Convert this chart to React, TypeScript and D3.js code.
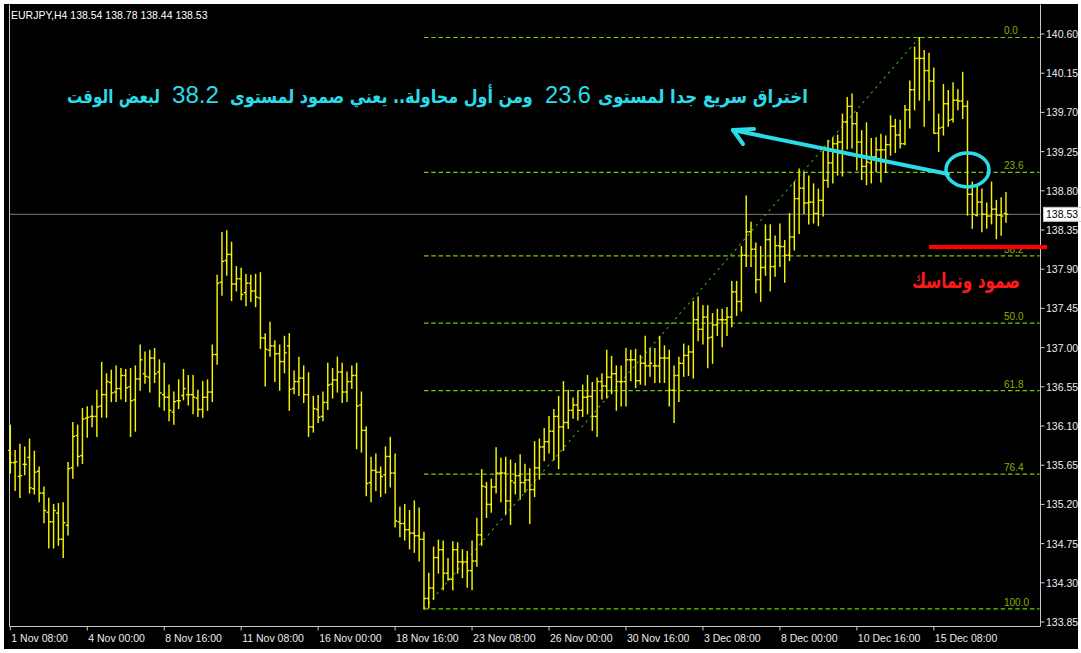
import React, { useLayoutEffect, useRef, useState } from 'react';
import * as d3 from 'd3';

// EURJPY H4 bars (one entry per bar, left to right)
const opens = [
  135.82, 135.68, 135.52, 135.66, 135.74, 135.38, 135.58, 135.33, 135.11, 135.00, 135.10, 134.80, 134.96, 135.62, 135.99, 135.76,
  136.19, 136.21, 136.21, 136.33, 136.46, 136.60, 136.49, 136.53, 136.68, 136.55, 136.40, 136.64, 136.70, 136.66, 136.88, 136.72,
  136.46, 136.43, 136.26, 136.39, 136.45, 136.46, 136.46, 136.42, 136.29, 136.43, 136.49, 136.92, 137.75, 138.00, 138.07, 137.73,
  137.79, 137.63, 137.74, 137.65, 137.57, 137.11, 136.97, 137.02, 136.93, 136.84, 137.02, 136.53, 136.61, 136.65, 136.46, 136.09,
  136.29, 136.21, 136.37, 136.58, 136.63, 136.72, 136.49, 136.61, 136.68, 136.34, 136.05, 135.45, 135.59, 135.57, 135.54, 135.75,
  135.56, 135.00, 134.98, 134.91, 134.87, 134.84, 134.80, 134.12, 134.24, 134.59, 134.68, 134.41, 134.34, 134.68, 134.54, 134.54,
  134.44, 134.55, 134.85, 135.40, 135.20, 135.40, 135.56, 135.56, 135.24, 135.45, 135.53, 135.45, 135.48, 135.37, 135.62, 135.86,
  135.92, 136.04, 136.21, 136.09, 136.14, 136.28, 136.34, 136.28, 136.43, 136.44, 136.21, 136.61, 136.56, 136.66, 136.70, 136.61,
  136.61, 136.86, 136.86, 136.62, 136.82, 136.79, 136.79, 136.79, 136.88, 136.88, 136.51, 136.68, 136.82, 136.91, 136.95, 137.32,
  137.21, 137.35, 137.12, 137.26, 137.32, 137.32, 137.35, 137.64, 137.53, 138.06, 138.33, 138.13, 137.78, 137.92, 138.24, 137.93,
  138.17, 138.16, 138.06, 138.27, 138.71, 138.83, 138.66, 138.67, 138.54, 138.69, 138.92, 139.12, 139.34, 139.36, 139.59, 139.77,
  139.57, 139.36, 139.08, 139.12, 139.19, 139.27, 139.27, 139.33, 139.54, 139.44, 139.34, 139.73, 139.96, 140.32, 140.32, 140.18,
  140.06, 139.46, 139.53, 139.80, 139.62, 139.84, 139.83, 139.77, 138.76, 138.52, 138.67, 138.53, 138.51, 138.59, 138.52, 138.54,
];
const highs = [
  136.11, 135.82, 135.89, 135.86, 135.95, 135.81, 135.63, 135.40, 135.27, 135.20, 135.21, 135.22, 135.68, 136.14, 136.11, 136.30,
  136.32, 136.33, 136.51, 136.83, 136.70, 136.74, 136.79, 136.76, 136.75, 136.76, 136.79, 137.03, 136.95, 136.97, 136.99, 136.86,
  136.82, 136.57, 136.49, 136.63, 136.75, 136.68, 136.68, 136.51, 136.61, 136.63, 137.03, 137.83, 138.32, 138.34, 138.21, 137.93,
  137.91, 137.84, 137.83, 137.84, 137.86, 137.16, 137.29, 137.08, 137.03, 137.13, 137.16, 136.73, 136.89, 136.79, 136.71, 136.44,
  136.45, 136.49, 136.82, 136.76, 136.89, 136.82, 136.72, 136.79, 136.82, 136.49, 136.09, 135.74, 135.78, 135.63, 135.86, 135.97,
  135.78, 135.17, 135.20, 135.13, 135.24, 135.16, 134.88, 134.41, 134.71, 134.79, 134.78, 134.58, 134.77, 134.76, 134.68, 134.66,
  134.78, 135.04, 135.60, 135.45, 135.49, 135.85, 135.73, 135.74, 135.71, 135.67, 135.77, 135.66, 135.61, 135.92, 135.95, 136.07,
  136.21, 136.29, 136.44, 136.61, 136.51, 136.42, 136.50, 136.57, 136.68, 136.60, 136.65, 136.70, 136.97, 136.90, 136.79, 136.79,
  136.99, 136.97, 136.98, 136.91, 137.13, 136.99, 136.99, 137.13, 137.02, 136.97, 136.79, 136.89, 137.04, 137.02, 137.53, 137.58,
  137.48, 137.48, 137.39, 137.44, 137.44, 137.46, 137.76, 137.76, 138.16, 138.74, 138.44, 138.20, 138.16, 138.41, 138.41, 138.28,
  138.42, 138.23, 138.54, 138.90, 139.05, 139.01, 138.97, 138.88, 138.82, 139.25, 139.38, 139.41, 139.44, 139.68, 139.87, 139.91,
  139.70, 139.49, 139.58, 139.40, 139.41, 139.45, 139.43, 139.66, 139.62, 139.61, 139.78, 140.06, 140.45, 140.56, 140.41, 140.38,
  140.21, 139.68, 140.02, 139.95, 140.04, 139.96, 140.16, 139.83, 138.90, 138.85, 138.82, 138.66, 138.90, 138.69, 138.72, 138.78,
];
const lows = [
  135.56, 135.36, 135.28, 135.54, 135.33, 135.32, 135.23, 134.99, 134.70, 134.70, 134.73, 134.59, 134.85, 135.50, 135.64, 135.67,
  135.97, 136.09, 135.98, 136.20, 136.20, 136.38, 136.38, 136.41, 136.38, 135.98, 136.04, 136.51, 136.59, 136.49, 136.60, 136.32,
  136.28, 136.16, 136.12, 136.30, 136.40, 136.34, 136.24, 136.21, 136.20, 136.28, 136.38, 136.81, 137.60, 137.83, 137.54, 137.65,
  137.55, 137.48, 137.53, 137.47, 136.99, 136.56, 136.90, 136.61, 136.51, 136.71, 136.28, 136.47, 136.45, 136.37, 135.98, 136.03,
  136.14, 136.16, 136.29, 136.42, 136.49, 136.37, 136.38, 136.53, 135.84, 135.80, 135.30, 135.23, 135.36, 135.29, 135.33, 135.40,
  134.94, 134.83, 134.79, 134.69, 134.65, 134.55, 134.00, 134.01, 134.11, 134.41, 134.22, 134.33, 134.22, 134.41, 134.36, 134.25,
  134.22, 134.49, 134.73, 135.05, 135.11, 135.33, 135.23, 135.09, 134.97, 135.32, 135.26, 135.34, 134.98, 135.29, 135.49, 135.70,
  135.79, 135.71, 135.61, 135.82, 136.07, 136.19, 136.17, 136.21, 136.24, 136.05, 135.98, 136.41, 136.42, 136.47, 136.28, 136.33,
  136.33, 136.62, 136.54, 136.58, 136.57, 136.67, 136.60, 136.60, 136.60, 136.33, 136.14, 136.38, 136.67, 136.68, 136.65, 137.08,
  137.04, 136.77, 136.82, 137.14, 137.01, 137.14, 137.24, 137.37, 137.42, 137.93, 137.93, 137.63, 137.53, 137.83, 137.65, 137.82,
  137.93, 137.75, 138.00, 138.12, 138.31, 138.54, 138.42, 138.43, 138.40, 138.51, 138.84, 138.89, 138.98, 138.97, 139.28, 139.29,
  139.04, 138.93, 138.87, 138.89, 139.02, 138.90, 139.01, 139.21, 139.24, 139.29, 139.33, 139.52, 139.73, 139.84, 139.54, 139.84,
  139.46, 139.25, 139.44, 139.54, 139.59, 139.73, 139.63, 138.52, 138.37, 138.51, 138.33, 138.37, 138.42, 138.25, 138.29, 138.44,
];
const closes = [
  135.68, 135.69, 135.53, 135.66, 135.39, 135.57, 135.33, 135.13, 135.00, 135.13, 134.80, 134.99, 135.61, 135.98, 135.75, 136.18,
  136.20, 136.21, 136.32, 136.46, 136.61, 136.48, 136.53, 136.68, 136.54, 136.39, 136.64, 136.86, 136.67, 136.88, 136.70, 136.48,
  136.43, 136.28, 136.38, 136.39, 136.53, 136.46, 136.43, 136.29, 136.43, 136.49, 136.92, 137.74, 137.99, 138.07, 137.73, 137.79,
  137.61, 137.74, 137.65, 137.58, 137.11, 136.98, 137.02, 136.93, 136.84, 136.94, 136.52, 136.61, 136.65, 136.46, 136.09, 136.30,
  136.20, 136.37, 136.57, 136.63, 136.72, 136.49, 136.61, 136.68, 136.33, 136.05, 135.44, 135.59, 135.57, 135.52, 135.75, 135.56,
  135.01, 134.98, 134.91, 134.87, 134.84, 134.80, 134.12, 134.24, 134.59, 134.68, 134.41, 134.34, 134.68, 134.54, 134.54, 134.44,
  134.55, 134.85, 135.41, 135.20, 135.40, 135.56, 135.56, 135.24, 135.47, 135.53, 135.45, 135.48, 135.37, 135.62, 135.86, 135.92,
  136.04, 136.21, 136.09, 136.14, 136.28, 136.34, 136.28, 136.43, 136.44, 136.21, 136.61, 136.56, 136.66, 136.70, 136.61, 136.61,
  136.86, 136.86, 136.62, 136.82, 136.79, 136.82, 136.79, 136.88, 136.88, 136.51, 136.68, 136.82, 136.91, 136.95, 137.32, 137.21,
  137.35, 137.11, 137.26, 137.32, 137.32, 137.35, 137.64, 137.53, 138.06, 138.33, 138.13, 137.78, 137.92, 138.24, 137.93, 138.17,
  138.16, 138.06, 138.27, 138.71, 138.83, 138.66, 138.67, 138.54, 138.69, 138.92, 139.12, 139.34, 139.36, 139.59, 139.77, 139.57,
  139.36, 139.08, 139.13, 139.19, 139.27, 139.27, 139.33, 139.54, 139.44, 139.34, 139.73, 139.96, 140.32, 140.32, 140.18, 140.06,
  139.46, 139.52, 139.80, 139.61, 139.84, 139.83, 139.77, 138.76, 138.53, 138.67, 138.53, 138.51, 138.59, 138.52, 138.51, 138.53,
];

// one date label every 16 bars
const dateLabels = [
  '1 Nov 08:00', '4 Nov 00:00', '8 Nov 16:00', '11 Nov 08:00', '16 Nov 00:00', '18 Nov 16:00', '23 Nov 08:00',
  '26 Nov 00:00', '30 Nov 16:00', '3 Dec 08:00', '8 Dec 00:00', '10 Dec 16:00', '15 Dec 08:00',
];
const barsPerLabel = 16;
const priceTicks = [
  140.60, 140.15, 139.70, 139.25, 138.80, 138.35, 137.90, 137.45,
  137.00, 136.55, 136.10, 135.65, 135.20, 134.75, 134.30, 133.85,
];
const fibLevels = [0.0, 23.6, 38.2, 50.0, 61.8, 76.4, 100.0];
const fibLowBar = 86;
const fibHighBar = 189;
const lastPrice = 138.53;
const symbol = 'EURJPY,H4';

const noteParts = [
  { text: 'اختراق سريع جدا لمستوى', x0: 598, x1: 808, num: false },
  { text: '23.6', x0: 545, x1: 591, num: true },
  { text: 'ومن أول محاولة.. يعني صمود لمستوى', x0: 230, x1: 533, num: false },
  { text: '38.2', x0: 172, x1: 219, num: true },
  { text: 'لبعض الوقت', x0: 67, x1: 160, num: false },
];

// text squeezed or stretched (by a transform) to fill [x0, x1]
function FitText(props: {
  x0: number; x1: number; y: number; fill: string; family: string; weight: string; size: number; children: string;
}) {
  const ref = useRef<SVGTextElement>(null);
  const [sx, setSx] = useState(1);
  useLayoutEffect(() => {
    if (!ref.current) return;
    const w = ref.current.getComputedTextLength();
    if (w > 0) setSx((props.x1 - props.x0) / w);
  }, [props.x0, props.x1, props.children]);
  return (
    <text
      ref={ref}
      transform={`translate(${props.x0},${props.y}) scale(${sx},1)`}
      fill={props.fill}
      fontFamily={props.family}
      fontWeight={props.weight}
      fontSize={props.size}
    >
      {props.children}
    </text>
  );
}

export default function App() {
  const W = 1081;
  const H = 653;
  const frame = { left: 9.5, right: 1040.5, top: 4.5, bottom: 626.5 };
  const n = opens.length;
  const x = d3.scaleLinear().domain([0, n - 1]).range([10.3, 10.3 + 4.81 * (n - 1)]);
  const y = d3.scaleLinear().domain([133.85, 140.6]).range([622, 34]);
  const font = 'Liberation Sans, Arial, sans-serif';
  const arabic = 'DejaVu Sans, sans-serif';

  const fibHigh = highs[fibHighBar];
  const fibLow = lows[fibLowBar];
  const fibPrice = (r: number) => fibHigh - ((fibHigh - fibLow) * r) / 100;

  const cyan = '#2cdbe8';
  const last = n - 1;
  const header = `${symbol}  ${opens[last].toFixed(2)} ${highs[last].toFixed(2)} ${lows[last].toFixed(2)} ${closes[last].toFixed(2)}`;

  // arrow from the circle back toward the text
  const arrowTail: [number, number] = [948, 174];
  const arrowTip: [number, number] = [733, 130];
  const arrowLine = d3.line()([arrowTail, arrowTip]);
  const arrowHead = d3.line()([[754, 129], arrowTip, [743, 144]]);

  return (
    <svg width={W} height={H} style={{ position: 'absolute', left: 0, top: 0, display: 'block' }}>
      <rect x={0} y={0} width={W} height={H} fill="#ffffff" />
      <rect x={4} y={4} width={1074} height={645} fill="#000000" />

      {/* frame */}
      <path
        d={`M${frame.left},${frame.top}V${frame.bottom}H${frame.right}V${frame.top}`}
        fill="none"
        stroke="#c8c8c8"
        strokeWidth={1}
      />

      <text x={11} y={19} fill="#ffffff" fontFamily={font} fontSize={10.5}>{header}</text>

      {/* current price line */}
      <line x1={frame.left} x2={frame.right} y1={y(lastPrice)} y2={y(lastPrice)} stroke="#7a7a7a" strokeWidth={1} />

      {/* fibonacci levels */}
      <line
        x1={x(fibLowBar)} y1={y(fibLow)} x2={x(fibHighBar)} y2={y(fibHigh)}
        stroke="#3f9f10" strokeWidth={1.1} strokeDasharray="2.5 4"
      />
      {fibLevels.map((r) => (
        <g key={r}>
          <line
            x1={x(fibLowBar)} x2={frame.right - 1} y1={y(fibPrice(r))} y2={y(fibPrice(r))}
            stroke="#74cc00" strokeWidth={1.2} strokeDasharray="4.5 2.8"
          />
          <text x={1004} y={y(fibPrice(r)) - 3} fill="#86b000" fontFamily={font} fontSize={10}>
            {r.toFixed(1)}
          </text>
        </g>
      ))}

      {/* bars */}
      <g stroke="#f4f400" strokeWidth={1.45}>
        {opens.map((o, i) => {
          const cx = x(i);
          return (
            <g key={i}>
              <line x1={cx} x2={cx} y1={y(highs[i]) - 0.5} y2={y(lows[i]) + 0.5} />
              <line x1={cx - 2.2} x2={cx} y1={y(o)} y2={y(o)} />
              <line x1={cx} x2={cx + 2.2} y1={y(closes[i])} y2={y(closes[i])} />
            </g>
          );
        })}
      </g>

      {/* price axis */}
      {priceTicks.map((p) => (
        <g key={p}>
          <line x1={frame.right} x2={frame.right + 4} y1={y(p)} y2={y(p)} stroke="#c8c8c8" />
          <text x={1046} y={y(p) + 4} fill="#ececec" fontFamily={font} fontSize={10.5}>{p.toFixed(2)}</text>
        </g>
      ))}
      <rect x={1043.5} y={y(lastPrice) - 7} width={40} height={14} fill="#ffffff" stroke="#c8c8c8" />
      <text x={1046} y={y(lastPrice) + 4} fill="#000000" fontFamily={font} fontSize={10.5}>{lastPrice.toFixed(2)}</text>

      {/* time axis */}
      {dateLabels.map((d, k) => {
        const tx = x(k * barsPerLabel);
        return (
          <g key={d}>
            <line x1={tx} x2={tx} y1={frame.bottom} y2={frame.bottom + 4} stroke="#c8c8c8" />
            <text x={tx + 1} y={642} fill="#ececec" fontFamily={font} fontSize={10.5}>{d}</text>
          </g>
        );
      })}

      {/* annotations */}
      {noteParts.map((p) => (
        <FitText
          key={p.text}
          x0={p.x0}
          x1={p.x1}
          y={103}
          fill={cyan}
          family={p.num ? font : arabic}
          weight={p.num ? 'normal' : 'bold'}
          size={p.num ? 24 : 19}
        >
          {p.text}
        </FitText>
      ))}
      <path d={arrowLine ?? ''} stroke={cyan} strokeWidth={4} fill="none" strokeLinecap="round" />
      <path d={arrowHead ?? ''} stroke={cyan} strokeWidth={4} fill="none" strokeLinecap="round" strokeLinejoin="round" />
      <ellipse cx={x(199)} cy={y(139.04)} rx={21.5} ry={17} fill="none" stroke={cyan} strokeWidth={3.5} />

      <line x1={929} x2={1047} y1={y(138.155)} y2={y(138.155)} stroke="#ff0000" strokeWidth={4} />
      <FitText x0={912} x1={1020} y={288} fill="#ff1a1a" family={arabic} weight="bold" size={21}>
        صمود وتماسك
      </FitText>
    </svg>
  );
}
